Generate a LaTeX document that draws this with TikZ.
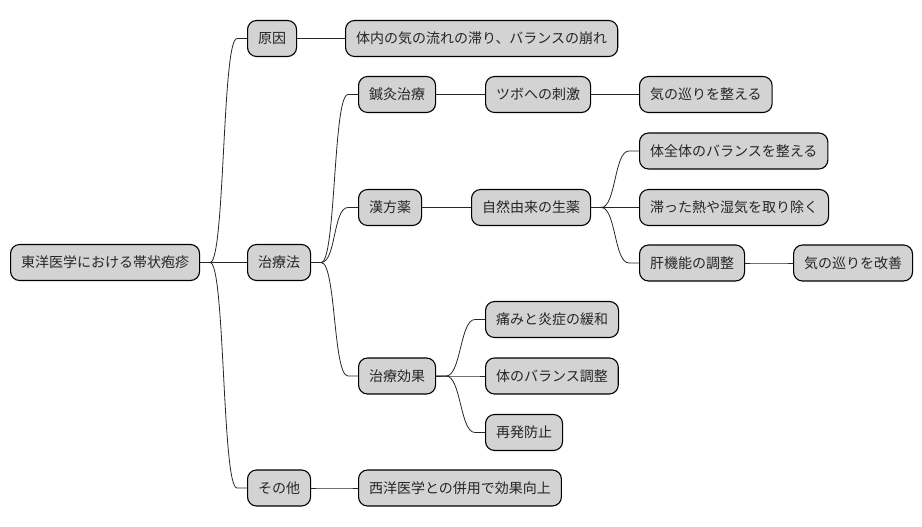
\documentclass[tikz,border=0pt]{standalone}
\usepackage{fontspec}
\setmainfont{Noto Sans CJK JP}
\usetikzlibrary{calc}
\definecolor{mmfill}{HTML}{D3D3D3}
\tikzset{
  mm/.style={draw=black, line width=1.1pt, fill=mmfill, rounded corners=9pt,
    anchor=west, minimum height=36pt, inner xsep=10.5pt, inner ysep=0pt,
    font=\fontsize{14pt}{16pt}\selectfont, text=black!85},
  branch/.style={draw=black!85, line width=0.8pt,
    to path={-- ++(10,0) .. controls +(15,0) and +(-15,0) .. ($(\tikztotarget)+(-10,0)$) -- (\tikztotarget)}}
}
\begin{document}
\begin{tikzpicture}[x=1pt,y=-1pt]
\useasboundingbox (0,0) rectangle (922,527);
\node[mm] (root) at (10,262.5) {東洋医学における帯状疱疹};
\node[mm] (c1) at (247,38.5) {原因};
\node[mm] (c1a) at (345,38.5) {体内の気の流れの滞り、バランスの崩れ};
\node[mm] (c2) at (247,262.5) {治療法};
\node[mm] (c2a) at (358,94.5) {鍼灸治療};
\node[mm] (c2a1) at (485,94.5) {ツボへの刺激};
\node[mm] (c2a11) at (639,94.5) {気の巡りを整える};
\node[mm] (c2b) at (358,207.5) {漢方薬};
\node[mm] (c2b1) at (471,207.5) {自然由来の生薬};
\node[mm] (c2b11) at (639,151) {体全体のバランスを整える};
\node[mm] (c2b12) at (639,207.5) {滞った熱や湿気を取り除く};
\node[mm] (c2b13) at (639,263) {肝機能の調整};
\node[mm] (c2b131) at (793,263) {気の巡りを改善};
\node[mm] (c2c) at (358,376) {治療効果};
\node[mm] (c2c1) at (485,319.5) {痛みと炎症の緩和};
\node[mm] (c2c2) at (485,376) {体のバランス調整};
\node[mm] (c2c3) at (485,432.5) {再発防止};
\node[mm] (c3) at (247,488) {その他};
\node[mm] (c3a) at (358,488) {西洋医学との併用で効果向上};

\draw[branch] (root.east) to (c1.west);
\draw[branch] (root.east) to (c2.west);
\draw[branch] (root.east) to (c3.west);
\draw[branch] (c1.east) to (c1a.west);
\draw[branch] (c2.east) to (c2a.west);
\draw[branch] (c2.east) to (c2b.west);
\draw[branch] (c2.east) to (c2c.west);
\draw[branch] (c2a.east) to (c2a1.west);
\draw[branch] (c2a1.east) to (c2a11.west);
\draw[branch] (c2b.east) to (c2b1.west);
\draw[branch] (c2b1.east) to (c2b11.west);
\draw[branch] (c2b1.east) to (c2b12.west);
\draw[branch] (c2b1.east) to (c2b13.west);
\draw[branch] (c2b13.east) to (c2b131.west);
\draw[branch] (c2c.east) to (c2c1.west);
\draw[branch] (c2c.east) to (c2c2.west);
\draw[branch] (c2c.east) to (c2c3.west);
\draw[branch] (c3.east) to (c3a.west);
\end{tikzpicture}
\end{document}
